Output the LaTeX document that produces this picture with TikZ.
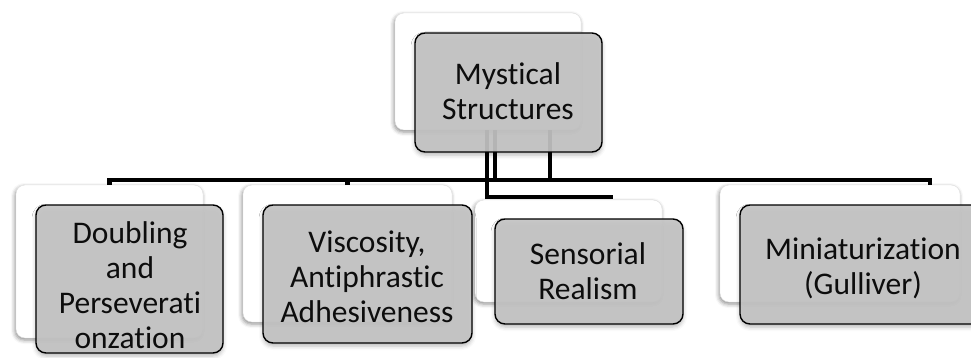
\documentclass[tikz,border=0pt]{standalone}
\usepackage{fontspec}
\setmainfont[Ligatures=NoCommon]{Carlito}
\usetikzlibrary{shadows.blur}
\begin{document}
\begin{tikzpicture}[x=1pt,y=-1pt,
  backbox/.style={draw=black!12, line width=0.4pt, fill=white, rounded corners=9pt,
    inner sep=0pt,
    blur shadow={shadow xshift=-1pt, shadow yshift=-2pt, shadow blur radius=4pt, shadow opacity=45}},
  frontbox/.style={draw=black, line width=1.4pt, fill={rgb,255:red,196;green,196;blue,196},
    fill opacity=0.92, rounded corners=10pt, inner sep=0pt,
    blur shadow={shadow xshift=0pt, shadow yshift=-3pt, shadow blur radius=4pt, shadow opacity=30}},
  conn/.style={line width=4.5pt, draw=black, line join=miter},
  lbl/.style={font=\fontsize{31.5}{35}\selectfont, align=center, text=black!95}
]
\useasboundingbox (0,0) rectangle (971,358);
\clip (0,0) rectangle (971,358);

% back (white) cards
\node[backbox, minimum width=186pt, minimum height=117pt] (topB) at (488,71.5) {};
\node[backbox, minimum width=187pt, minimum height=153pt] (dblB) at (109.5,261.5) {};
\node[backbox, minimum width=209pt, minimum height=137pt] (visB) at (347.5,253.5) {};
\node[backbox, minimum width=187pt, minimum height=102pt] (senB) at (568.5,251) {};
\node[backbox, minimum width=240pt, minimum height=117pt] (minB) at (840,243.5) {};

% connectors from the root to each branch
\draw[conn] ([xshift=7pt]topB.south) -- ++(0,50) -| (dblB.north);
\draw[conn] ([xshift=7pt]topB.south) -- ++(0,50) -| (visB.north);
\draw[conn] ([xshift=7pt]topB.south) -- ++(0,50) -| ([xshift=90pt]minB.north);
\draw[conn] ([xshift=62pt]topB.south) -- ++(0,50) -| ([xshift=90pt]minB.north);
\draw[conn] ([xshift=-1pt]topB.south) |- ([xshift=44pt,yshift=3pt]senB.north);

% front (grey) cards
\node[frontbox, minimum width=187pt, minimum height=119pt] (topF) at (508.5,92.5) {};
\node[frontbox, minimum width=187pt, minimum height=148pt] (dblF) at (129.5,279) {};
\node[frontbox, minimum width=209pt, minimum height=138pt] (visF) at (367.5,274) {};
\node[frontbox, minimum width=188pt, minimum height=105pt] (senF) at (589,271.5) {};
\node[frontbox, minimum width=250pt, minimum height=119pt] (minF) at (865,264.5) {};

% labels
\node[lbl] (topT) at (508,91) {Mystical\\Structures};
\node[lbl] (dblT) at (130,285) {Doubling\\and\\Perseverati\\onzation};
\node[lbl] (visT) at (367,277) {Viscosity,\\Antiphrastic\\Adhesiveness};
\node[lbl] (senT) at (588,271) {Sensorial\\Realism};
\node[lbl] (minT) at (863,268) {Miniaturization\\(Gulliver)};
\end{tikzpicture}
\end{document}
